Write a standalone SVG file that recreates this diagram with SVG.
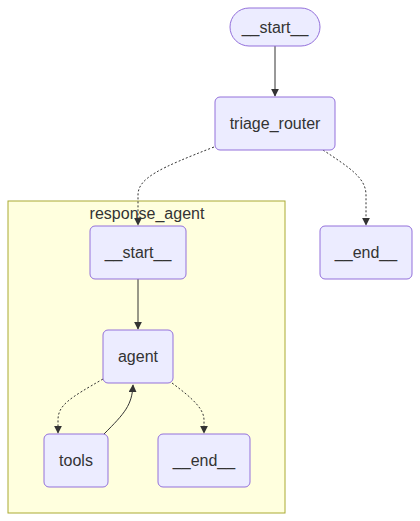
<svg xmlns="http://www.w3.org/2000/svg" width="420" height="521" viewBox="0 0 420 521">
<style>
.node rect{fill:#ECECFF;stroke:#9370DB;stroke-width:1}
.node text,.cl text{font-family:"Liberation Sans",Arial,sans-serif;font-size:16px;fill:#333;text-anchor:middle;dominant-baseline:central}
.e{fill:none;stroke:#333;stroke-width:1}
.d{stroke-dasharray:2 2}
</style>
<defs>
<marker id="ah" viewBox="0 0 10 10" refX="9" refY="5" markerWidth="8" markerHeight="8" markerUnits="userSpaceOnUse" orient="auto">
<path d="M0,0 L10,5 L0,10 z" fill="#333"/>
</marker>
</defs>
<rect width="420" height="521" fill="#fff"/>
<g id="cluster_response_agent" class="cl">
<rect x="8" y="201" width="277" height="312" fill="#ffffde" stroke="#aaaa33" stroke-width="1"/>
<text x="147" y="213">response_agent</text>
</g>
<g id="edges">
<path class="e" d="M275,46 L275,96" marker-end="url(#ah)"/>
<path class="e d" d="M214,147 C160,168 138,178 138,195 L138,225" marker-end="url(#ah)"/>
<path class="e d" d="M323,150 C350,168 366,178 366,195 L366,225" marker-end="url(#ah)"/>
<path class="e" d="M138,279 L138,329" marker-end="url(#ah)"/>
<path class="e d" d="M103,379 C70,398 58,405 58,420 L58,433" marker-end="url(#ah)"/>
<path class="e" d="M104,434 C125,413 132,405 133,385" marker-end="url(#ah)"/>
<path class="e d" d="M172,383 C195,400 204,410 204,420 L204,433" marker-end="url(#ah)"/>
</g>
<g id="start" class="node"><rect x="230" y="8" width="90" height="38" rx="19" ry="19"/><text x="275" y="27">__start__</text></g>
<g id="triage_router" class="node"><rect x="215" y="97" width="120" height="53" rx="5" ry="5"/><text x="275" y="123.5">triage_router</text></g>
<g id="end" class="node"><rect x="320" y="226" width="92" height="53" rx="5" ry="5"/><text x="366" y="252.5">__end__</text></g>
<g id="ra_start" class="node"><rect x="90" y="226" width="96" height="53" rx="5" ry="5"/><text x="138" y="252.5">__start__</text></g>
<g id="agent" class="node"><rect x="103" y="330" width="70" height="53" rx="5" ry="5"/><text x="138" y="356.5">agent</text></g>
<g id="tools" class="node"><rect x="44" y="434" width="64" height="53" rx="5" ry="5"/><text x="76" y="460.5">tools</text></g>
<g id="ra_end" class="node"><rect x="158" y="434" width="92" height="53" rx="5" ry="5"/><text x="204" y="460.5">__end__</text></g>
</svg>
